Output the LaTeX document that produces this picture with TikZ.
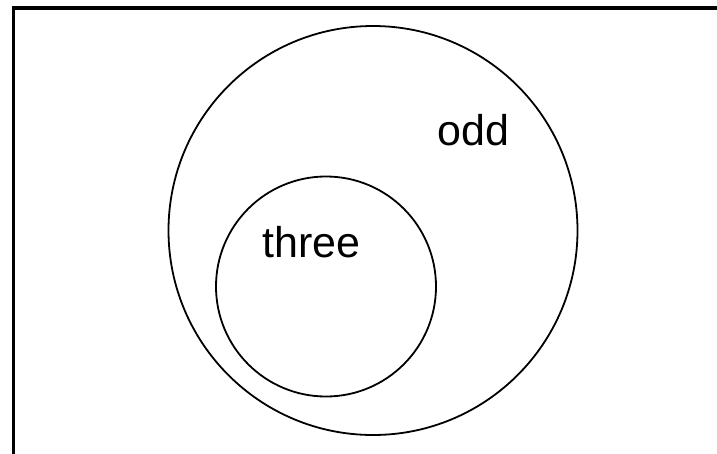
\documentclass[tikz,border=0pt]{standalone}
\usepackage{fontspec}
\setmainfont{Liberation Sans}
\usepackage{tikz}

\begin{document}
\begin{tikzpicture}
 [x=1pt, y=-1pt,
  set node/.style={circle, draw, line width=1.8pt, inner sep=0pt},
  label node/.style={anchor=base west, inner sep=0pt, font=\fontsize{43}{50}\selectfont}]

 \useasboundingbox (0,0) rectangle (717,453);
 \clip (0,0) rectangle (717,453);

 % frame, only top and left edge inside the picture
 \draw[line width=3.5pt] (13.5,480) -- (13.5,8) -- (740,8);

 \node[set node, minimum size=409pt] (odd) at (373,230.5) {};
 \node[set node, minimum size=220pt] (three) at (326,286.5) {};

 \node[label node] (oddlabel) at (437,145) {odd};
 \node[label node] (threelabel) at (262,257) {three};

\end{tikzpicture}
\end{document}
